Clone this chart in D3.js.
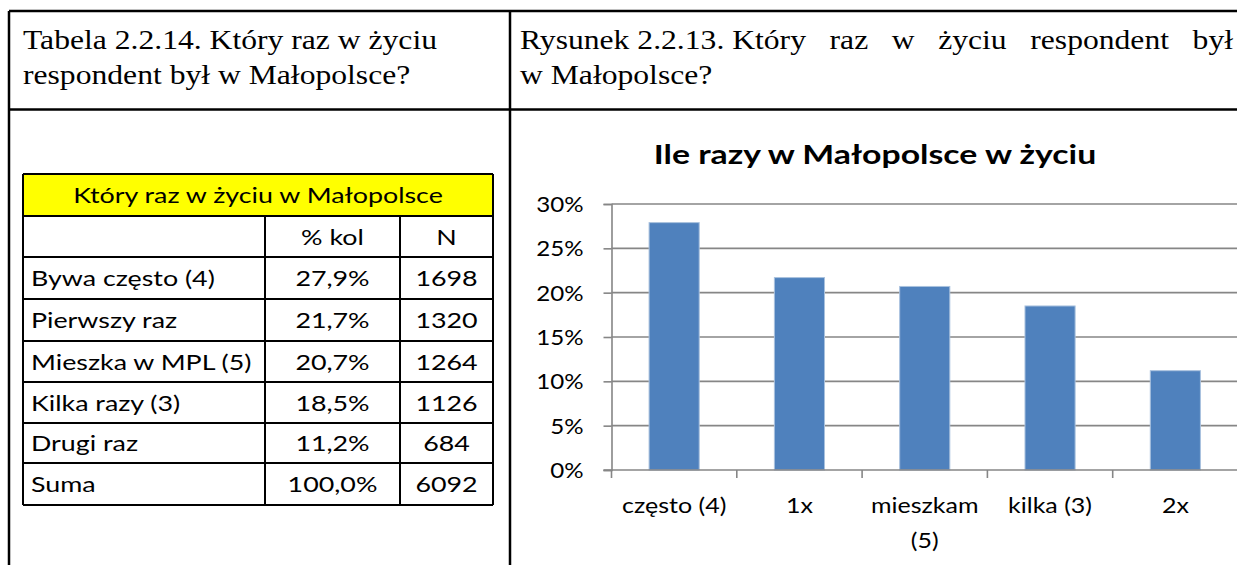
<!DOCTYPE html>
<html>
<head>
<meta charset="utf-8">
<script src="https://cdn.jsdelivr.net/npm/d3@7"></script>
<style>
  body { margin: 0; background: #fff; }
  svg { display: block; }
</style>
</head>
<body>
<div id="chart"></div>
<script>
// ----------- data ------------
const tableTitle = "Który raz w życiu w Małopolsce";
const tableHead = ["", "% kol", "N"];
const rowLabels = ["Bywa często (4)", "Pierwszy raz", "Mieszka w MPL (5)", "Kilka razy (3)", "Drugi raz", "Suma"];
const rowPct = ["27,9%", "21,7%", "20,7%", "18,5%", "11,2%", "100,0%"];
const rowN = [1698, 1320, 1264, 1126, 684, 6092];

const categories = ["często (4)", "1x", "mieszkam (5)", "kilka (3)", "2x"];
const values = [27.9, 21.7, 20.7, 18.5, 11.2];
const yTicks = [0, 5, 10, 15, 20, 25, 30];

const width = 1237;
const height = 565;
const serif = "'Liberation Serif', 'Times New Roman', serif";
const sans = "Lato, 'Open Sans', sans-serif";

const svg = d3.select("#chart")
  .append("svg")
  .attr("width", width)
  .attr("height", height);

// the source picture is stretched sideways, so text gets a horizontal scale
function label(parent, x, y, str, opts) {
  const o = Object.assign({ size: 22, sx: 1, anchor: "start", family: sans, weight: "normal" }, opts);
  return parent.append("text")
    .attr("transform", `translate(${x},${y}) scale(${o.sx},1)`)
    .attr("text-anchor", o.anchor)
    .attr("font-family", o.family)
    .attr("font-size", o.size)
    .attr("font-weight", o.weight)
    .attr("fill", "#000")
    .text(str);
}

// ----------- page frame ------------
const frame = svg.append("g").attr("stroke", "#000").attr("stroke-width", 2.5);
frame.append("line").attr("x1", 9).attr("x2", width + 5).attr("y1", 11).attr("y2", 11);
frame.append("line").attr("x1", 9).attr("x2", width + 5).attr("y1", 109.5).attr("y2", 109.5);
frame.append("line").attr("x1", 9).attr("x2", 9).attr("y1", 11).attr("y2", height + 5);
frame.append("line").attr("x1", 510).attr("x2", 510).attr("y1", 11).attr("y2", height + 5);

// headings
const serifSize = 28;
const serifSx = 1.13;
label(svg, 23, 49, "Tabela 2.2.14. Który raz w życiu", { family: serif, size: serifSize, sx: serifSx });
label(svg, 23, 84, "respondent był w Małopolsce?", { family: serif, size: serifSize, sx: serifSx });

// first line of the right heading is justified across the cell
const head2words = ["Rysunek 2.2.13. Który", "raz", "w", "życiu", "respondent", "był"];
const wordEls = head2words.map(w => label(svg, 0, 49, w, { family: serif, size: serifSize, sx: serifSx }));
const widths = wordEls.map(t => t.node().getComputedTextLength() * serifSx);
const lineStart = 520, lineEnd = 1233;
const gap = (lineEnd - lineStart - d3.sum(widths)) / (head2words.length - 1);
let cx = lineStart;
wordEls.forEach((t, i) => {
  t.attr("transform", `translate(${cx},49) scale(${serifSx},1)`);
  cx += widths[i] + gap;
});
label(svg, 520, 84, "w Małopolsce?", { family: serif, size: serifSize, sx: serifSx });

// ----------- table ------------
const colX = [23, 265, 400, 493];
const rowY = [174, 216, 257, 299, 341, 382, 423, 463, 505];
const tSize = 22;
const tSx = 1.22;

const table = svg.append("g");
table.append("rect")
  .attr("x", colX[0]).attr("y", rowY[0])
  .attr("width", colX[3] - colX[0]).attr("height", rowY[1] - rowY[0])
  .attr("fill", "#ffff00");

label(table, (colX[0] + colX[3]) / 2, (rowY[0] + rowY[1]) / 2 + 8, tableTitle, { size: tSize, sx: tSx, anchor: "middle" });

const bodyRows = [tableHead].concat(rowLabels.map((d, i) => [d, rowPct[i], rowN[i]]));
bodyRows.forEach((r, i) => {
  const yMid = (rowY[i + 1] + rowY[i + 2]) / 2 + 8;
  label(table, colX[0] + 8, yMid, r[0], { size: tSize, sx: tSx });
  label(table, (colX[1] + colX[2]) / 2, yMid, r[1], { size: tSize, sx: tSx, anchor: "middle" });
  label(table, (colX[2] + colX[3]) / 2, yMid, r[2], { size: tSize, sx: tSx, anchor: "middle" });
});

const grid = table.append("g").attr("stroke", "#000").attr("stroke-width", 2);
rowY.forEach(y => {
  grid.append("line").attr("x1", colX[0]).attr("x2", colX[3]).attr("y1", y).attr("y2", y);
});
grid.append("line").attr("x1", colX[0]).attr("x2", colX[0]).attr("y1", rowY[0]).attr("y2", rowY[8]);
grid.append("line").attr("x1", colX[3]).attr("x2", colX[3]).attr("y1", rowY[0]).attr("y2", rowY[8]);
[colX[1], colX[2]].forEach(x => {
  grid.append("line").attr("x1", x).attr("x2", x).attr("y1", rowY[1]).attr("y2", rowY[8]);
});

// ----------- bar chart ------------
const plot = { left: 611.5, right: 1238, top: 204, bottom: 470 };

const x = d3.scaleBand()
  .domain(categories)
  .range([plot.left, plot.right])
  .paddingInner(0.6)
  .paddingOuter(0.3);

const y = d3.scaleLinear().domain([0, 30]).range([plot.bottom, plot.top]);

label(svg, 875, 164, "Ile razy w Małopolsce w życiu", { size: 26, sx: 1.3, anchor: "middle", weight: "bold" });

// gridlines
svg.append("g")
  .selectAll("line")
  .data(yTicks.filter(d => d > 0))
  .join("line")
  .attr("x1", plot.left).attr("x2", plot.right)
  .attr("y1", d => y(d)).attr("y2", d => y(d))
  .attr("stroke", "#868686").attr("stroke-width", 1.6);

// y axis
const yAxis = svg.append("g")
  .attr("transform", `translate(${plot.left},0)`)
  .call(d3.axisLeft(y).tickValues(yTicks).tickFormat(d => d + "%").tickSize(8).tickPadding(20));
yAxis.select(".domain").attr("stroke", "#868686").attr("stroke-width", 1.6);
yAxis.selectAll(".tick line").attr("stroke", "#868686").attr("stroke-width", 1.6);
yAxis.selectAll(".tick text")
  .attr("x", null)
  .attr("dy", "0.35em")
  .attr("transform", "translate(-28,0) scale(1.15,1)")
  .attr("font-family", sans).attr("font-size", 21).attr("fill", "#000");

// bars
svg.append("g")
  .selectAll("rect")
  .data(values)
  .join("rect")
  .attr("x", (d, i) => x(categories[i]))
  .attr("y", d => y(d))
  .attr("width", x.bandwidth())
  .attr("height", d => y(0) - y(d))
  .attr("fill", "#4f81bd")
  .attr("stroke", "#a9c1de")
  .attr("stroke-width", 1);

// x axis line and category ticks
const boundaries = categories.map(c => x(c) - x.step() * x.paddingInner() / 2)
  .concat([plot.right]);
const xg = svg.append("g");
xg.append("line")
  .attr("x1", plot.left - 8).attr("x2", plot.right)
  .attr("y1", y(0)).attr("y2", y(0))
  .attr("stroke", "#868686").attr("stroke-width", 1.6);
xg.selectAll("line.tk")
  .data(boundaries)
  .join("line")
  .attr("class", "tk")
  .attr("x1", d => d).attr("x2", d => d)
  .attr("y1", y(0)).attr("y2", y(0) + 8)
  .attr("stroke", "#868686").attr("stroke-width", 1.6);

// category labels (mieszkam (5) wraps)
const labelLines = categories.map(c => c === "mieszkam (5)" ? ["mieszkam", "(5)"] : [c]);
categories.forEach((c, i) => {
  labelLines[i].forEach((ln, j) => {
    label(xg, x(c) + x.bandwidth() / 2, 513 + j * 35, ln, { size: 21, sx: 1.19, anchor: "middle" });
  });
});
</script>
</body>
</html>
